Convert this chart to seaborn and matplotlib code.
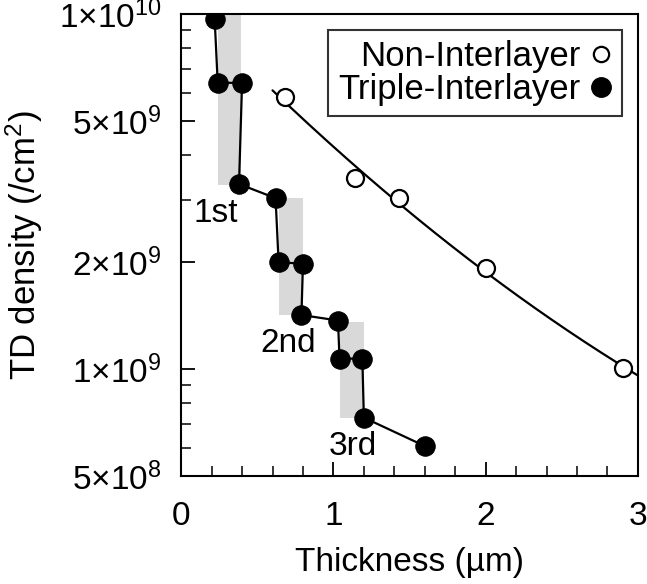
import numpy as np
import pandas as pd
import matplotlib
matplotlib.use("Agg")
import matplotlib.pyplot as plt
from matplotlib.lines import Line2D
from matplotlib.ticker import LogLocator, NullFormatter, FixedLocator, MultipleLocator
import seaborn as sns

# Triple-Interlayer (filled circles), in growth order
tri_x = [0.22, 0.24, 0.40, 0.38, 0.62, 0.64, 0.80, 0.79, 1.03, 1.04, 1.19, 1.20, 1.60]
tri_y = [9.7e9, 6.4e9, 6.4e9, 3.32e9, 3.03e9, 2.0e9, 1.98e9, 1.42e9, 1.37e9, 1.07e9, 1.07e9, 7.3e8, 6.07e8]

# Non-Interlayer (open circles)
non_x = [0.68, 1.14, 1.43, 2.0, 2.90]
non_y = [5.84e9, 3.45e9, 3.03e9, 1.92e9, 1.01e9]

# shaded interlayer bands: x range and y range
band_x0 = [0.24, 0.64, 1.04]
band_x1 = [0.39, 0.80, 1.20]
band_y0 = [3.3e9, 1.42e9, 7.3e8]
band_y1 = [1.0e10, 3.03e9, 1.36e9]

labels = ["1st", "2nd", "3rd"]
label_x = [0.23, 0.70, 1.13]
label_y = [2.75e9, 1.18e9, 6.07e8]

yticks = [5e8, 1e9, 2e9, 5e9, 1e10]
yticklabels = [r"$5{\times}10^{8}$", r"$1{\times}10^{9}$", r"$2{\times}10^{9}$",
               r"$5{\times}10^{9}$", r"$1{\times}10^{10}$"]

sns.set_theme(style="ticks")
plt.rcParams["font.family"] = ["Liberation Sans", "DejaVu Sans"]
plt.rcParams["mathtext.fontset"] = "custom"
plt.rcParams["mathtext.rm"] = "Liberation Sans"
plt.rcParams["mathtext.it"] = "Liberation Sans"
plt.rcParams["text.color"] = "black"
plt.rcParams["axes.labelcolor"] = "black"

fig = plt.figure(figsize=(6.47, 5.84), dpi=100)
ax = fig.add_axes([0.28, 0.185, 0.706, 0.791])

for x0, x1, y0, y1 in zip(band_x0, band_x1, band_y0, band_y1):
    ax.fill_between([x0, x1], y0, y1, color="#d9d9d9", lw=0, zorder=0)

# fitted curve through the non-interlayer data (quadratic in log space)
coef = np.polyfit(non_x, np.log10(non_y), 2)
fit_x = np.linspace(0.6, 3.0, 200)
ax.plot(fit_x, 10 ** np.polyval(coef, fit_x), color="black", lw=1.6, zorder=1)

tri = pd.DataFrame({"x": tri_x, "y": tri_y})
non = pd.DataFrame({"x": non_x, "y": non_y})
sns.lineplot(data=tri, x="x", y="y", sort=False, estimator=None, ax=ax,
             color="black", lw=1.6, marker="o", markersize=14,
             markerfacecolor="black", markeredgecolor="black", zorder=3)
sns.scatterplot(data=non, x="x", y="y", ax=ax, s=150, facecolor="white",
                edgecolor="black", linewidth=1.6, zorder=4)

for t, lx, ly in zip(labels, label_x, label_y):
    ax.text(lx, ly, t, fontsize=24, ha="center", va="center")

ax.set_yscale("log")
ax.set_xlim(0, 3)
ax.set_ylim(5e8, 1e10)
ax.xaxis.set_major_locator(MultipleLocator(1))
ax.xaxis.set_minor_locator(MultipleLocator(0.2))
ax.yaxis.set_major_locator(FixedLocator(yticks))
ax.set_yticklabels(yticklabels)
ax.yaxis.set_minor_locator(LogLocator(base=10, subs=np.arange(2, 10)))
ax.yaxis.set_minor_formatter(NullFormatter())
ax.tick_params(axis="both", which="major", direction="in", length=10, width=1.3,
               labelsize=24, colors="black")
ax.tick_params(axis="both", which="minor", direction="in", length=7, width=1.3)
ax.tick_params(axis="y", which="major", pad=14)
ax.tick_params(axis="x", which="major", pad=18)
for s in ax.spines.values():
    s.set_color("black")
    s.set_linewidth(1.5)

ax.set_xlabel("Thickness (µm)", fontsize=24, labelpad=11)
ax.set_ylabel(r"TD density (/cm$^{2}$)", fontsize=25, labelpad=10)

handles = [
    Line2D([], [], ls="none", marker="o", markersize=11, markerfacecolor="white",
           markeredgecolor="black", markeredgewidth=1.6),
    Line2D([], [], ls="none", marker="o", markersize=14, markerfacecolor="black",
           markeredgecolor="black"),
]
leg = ax.legend(handles, ["Non-Interlayer", "Triple-Interlayer"], loc="upper right",
                markerfirst=False, fontsize=25, frameon=True, fancybox=False,
                edgecolor="black", handlelength=0.6, handletextpad=0.3,
                borderpad=0.3, labelspacing=0.0, borderaxespad=0.45)
leg.get_frame().set_linewidth(1.5)
for t in leg.get_texts():
    t.set_ha("right")

fig.savefig("out.png", dpi=100)
